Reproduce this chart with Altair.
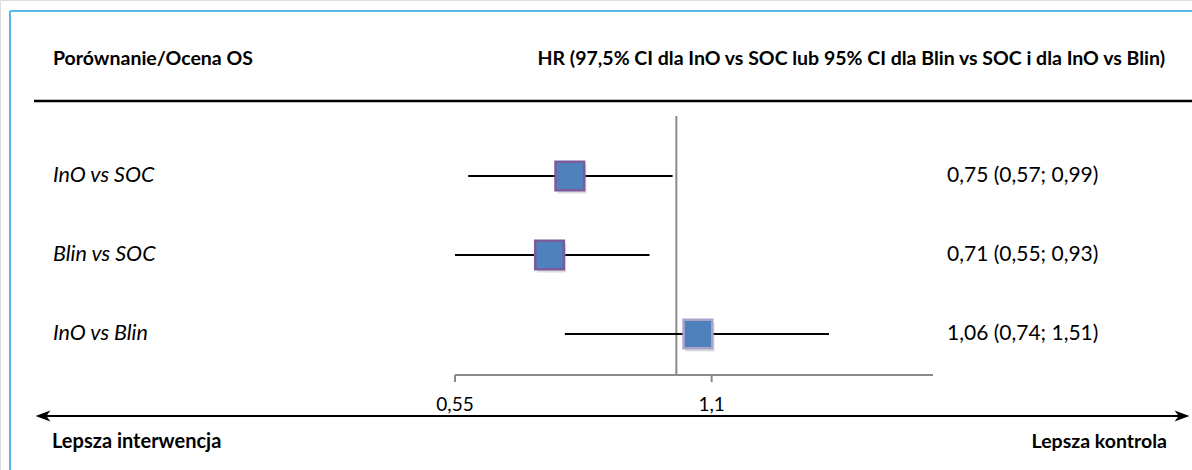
import altair as alt
import pandas as pd

# Hazard ratios with confidence limits for each comparison
comparisons = ["InO vs SOC", "Blin vs SOC", "InO vs Blin"]
hr = [0.75, 0.71, 1.06]
ci_low = [0.57, 0.55, 0.74]
ci_high = [0.99, 0.93, 1.51]
box_stroke = ["#7b5b9c", "#7b5b9c", "#a9a2cc"]

# Axis ticks and extent, no-effect reference
tick_values = [0.55, 1.1]
tick_labels = ["0,55", "1,1"]
axis_extent = [0.55, 2.0]
reference = [1.0]

FONT = "Lato"


def fmt(v):
    return f"{v:.2f}".replace(".", ",")


df = pd.DataFrame({
    "comparison": comparisons,
    "row": list(range(len(comparisons))),
    "hr": hr,
    "lo": ci_low,
    "hi": ci_high,
    "stroke": box_stroke,
})
df["label"] = [f"{fmt(h)} ({fmt(l)}; {fmt(u)})" for h, l, u in zip(hr, ci_low, ci_high)]

ticks = pd.DataFrame({"v": tick_values, "t": tick_labels})
extent = pd.DataFrame({"a": [axis_extent[0]], "b": [axis_extent[1]]})
ref = pd.DataFrame({"v": reference})
one = pd.DataFrame({"a": [0]})

xscale = alt.Scale(type="log", domain=axis_extent, range=[455, 933])
yscale = alt.Scale(domain=[0, 2], range=[176, 334])

X_HR = alt.X("hr:Q", scale=xscale, axis=None)
Y_ROW = alt.Y("row:Q", scale=yscale, axis=None)

base = alt.Chart(df)

whiskers = base.mark_rule(color="black", strokeWidth=2).encode(
    x=alt.X("lo:Q", scale=xscale, axis=None), x2="hi:Q", y=Y_ROW
)

shadow = base.mark_square(size=840, color="#9a9a9a", opacity=0.35, xOffset=2, yOffset=3).encode(
    x=X_HR, y=Y_ROW
)

boxes = base.mark_square(size=820, fill="#4f81bd", fillOpacity=1, strokeWidth=2.5, opacity=1).encode(
    x=X_HR, y=Y_ROW, stroke=alt.Stroke("stroke:N", scale=None)
)

ref_line = alt.Chart(ref).mark_rule(color="#8a8a8a", strokeWidth=2).encode(
    x=alt.X("v:Q", scale=xscale, axis=None), y=alt.value(116), y2=alt.value(375)
)

axis_line = alt.Chart(extent).mark_rule(color="#8a8a8a", strokeWidth=2).encode(
    x=alt.X("a:Q", scale=xscale, axis=None), x2="b:Q", y=alt.value(375)
)

tick_marks = alt.Chart(ticks).mark_rule(color="#8a8a8a", strokeWidth=2).encode(
    x=alt.X("v:Q", scale=xscale, axis=None), y=alt.value(375), y2=alt.value(382)
)

tick_text = alt.Chart(ticks).mark_text(font=FONT, fontSize=19, baseline="middle").encode(
    x=alt.X("v:Q", scale=xscale, axis=None), y=alt.value(405), text="t:N"
)

row_labels = base.mark_text(font=FONT, fontSize=21.5, fontStyle="italic", align="left", baseline="middle").encode(
    x=alt.value(53), y=Y_ROW, text="comparison:N"
)

value_labels = base.mark_text(font=FONT, fontSize=21, align="left", baseline="middle").encode(
    x=alt.value(947), y=Y_ROW, text="label:N"
)

header_left = alt.Chart(one).mark_text(
    font=FONT, fontSize=19.5, fontWeight="bold", align="left", baseline="middle",
    text="Porównanie/Ocena OS",
).encode(x=alt.value(53), y=alt.value(59))

header_right = alt.Chart(one).mark_text(
    font=FONT, fontSize=19.5, fontWeight="bold", align="right", baseline="middle",
    text="HR (97,5% CI dla InO vs SOC lub 95% CI dla Blin vs SOC i dla InO vs Blin)",
).encode(x=alt.value(1165), y=alt.value(59))

header_rule = alt.Chart(one).mark_rule(color="black", strokeWidth=2.5).encode(
    x=alt.value(34), x2=alt.value(1192), y=alt.value(101)
)

frame_top = alt.Chart(one).mark_rule(color="#5db6e8", strokeWidth=2).encode(
    x=alt.value(10), x2=alt.value(1192), y=alt.value(11)
)
frame_left = alt.Chart(one).mark_rule(color="#5db6e8", strokeWidth=2).encode(
    x=alt.value(10), y=alt.value(11), y2=alt.value(470)
)

arrow_line = alt.Chart(one).mark_rule(color="black", strokeWidth=2).encode(
    x=alt.value(40), x2=alt.value(1185), y=alt.value(416)
)

arrow_shape = "M -1 0 L 1 -0.75 L 0.45 0 L 1 0.75 Z"
arrow_left = alt.Chart(one).mark_point(
    shape=arrow_shape, size=220, filled=True, color="black", opacity=1
).encode(x=alt.value(43), y=alt.value(416))
arrow_right = alt.Chart(one).mark_point(
    shape=arrow_shape, size=220, filled=True, color="black", opacity=1, angle=180
).encode(x=alt.value(1182), y=alt.value(416))

bottom_left = alt.Chart(one).mark_text(
    font=FONT, fontSize=20, fontWeight="bold", align="left", baseline="middle",
    text="Lepsza interwencja",
).encode(x=alt.value(52), y=alt.value(442))

bottom_right = alt.Chart(one).mark_text(
    font=FONT, fontSize=19.5, fontWeight="bold", align="right", baseline="middle",
    text="Lepsza kontrola",
).encode(x=alt.value(1167), y=alt.value(442))

chart = alt.layer(
    frame_top, frame_left, header_rule, header_left, header_right,
    ref_line, axis_line, tick_marks, tick_text,
    whiskers, shadow, boxes, row_labels, value_labels,
    arrow_line, arrow_left, arrow_right, bottom_left, bottom_right,
).properties(
    width=1192, height=470, autosize=alt.AutoSizeParams(type="none"), padding=0,
).configure_view(stroke=None).configure(background="white")

chart.save("out.html", embed_options={"renderer": "svg", "actions": False})
